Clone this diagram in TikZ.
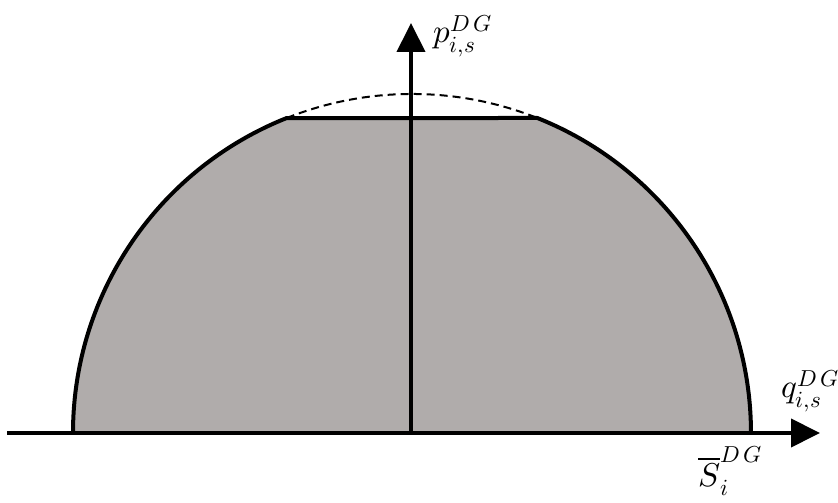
\documentclass[tikz,border=0pt]{standalone}
\usepackage{unicode-math}
\setmathfont{Latin Modern Math}
\usetikzlibrary{arrows.meta}
\definecolor{regfill}{RGB}{176,172,171}
\begin{document}
\begin{tikzpicture}[x=1pt,y=1pt,
  axis/.style={line width=4pt,-{Triangle[length=29pt,width=28pt]}},
  outline/.style={line width=4pt,line join=round},
  lbl/.style={inner sep=0pt,font=\fontsize{33}{38}\selectfont}]
\useasboundingbox (0,0) rectangle (838,503);
\coordinate (c) at (412,70);
\coordinate (L) at (73,70);
\coordinate (R) at (751,70);
\coordinate (TL) at (286.7,385);
\coordinate (TR) at (537.3,385);
\fill[regfill] (L) arc[start angle=180,end angle=111.7,radius=339] -- (TR) arc[start angle=68.3,end angle=0,radius=339] -- cycle;
\draw[outline] (L) arc[start angle=180,end angle=111.7,radius=339] -- (TR) arc[start angle=68.3,end angle=0,radius=339];
\draw[line width=2pt,dash pattern=on 8pt off 5pt] (TL) arc[start angle=111.7,end angle=68.3,radius=339];
\coordinate (xl) at (7,70);
\coordinate (xr) at (820,70);
\coordinate (o) at (411,70);
\coordinate (yt) at (411,480);
\draw[axis] (xl) -- (xr);
\draw[axis] (o) -- (yt);
\node[lbl,anchor=base west] (p) at (433,460) {$p_{i,s}^{D\,G}$};
\node[lbl,anchor=base west] (q) at (781,105) {$q_{i,s}^{D\,G}$};
\node[lbl,anchor=base west] (S) at (698,16) {$\overline{S}_{i}^{D\,G}$};
\end{tikzpicture}
\end{document}
